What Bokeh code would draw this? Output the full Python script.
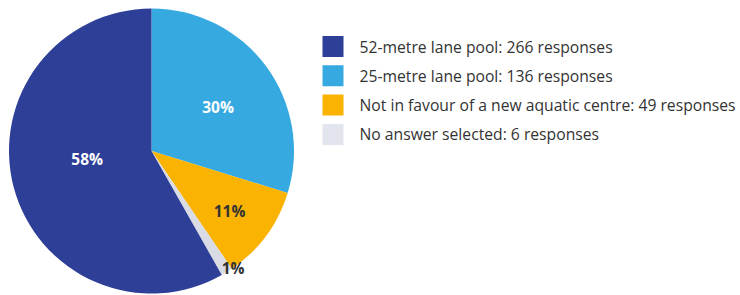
import math
from bokeh.plotting import figure
from bokeh.models import Range1d, ColumnDataSource
from bokeh.core.properties import value
from bokeh.embed import file_html
from bokeh.resources import INLINE

# ---- data (legend order) ----
categories = ["52-metre lane pool", "25-metre lane pool",
              "Not in favour of a new aquatic centre", "No answer selected"]
responses = [266, 136, 49, 6]
colors = ["#2E3F98", "#36A9E1", "#F9B300", "#D9DCE4"]
legend_colors = ["#2E3F98", "#36A9E1", "#F9B300", "#E2E5ED"]
label_colors = ["white", "white", "#333333", "#333333"]

# pie drawing order: clockwise from 12 o'clock
pie_order = [1, 2, 3, 0]
label_dist = {0: 0.455, 1: 0.56, 2: 0.69, 3: 1.0}
label_shift_deg = {0: -7.5, 1: -3, 2: -1, 3: 3}

W, H = 740, 295
cx, cy, R = 151, H - 150.5, 142.5

total = sum(responses)
starts, ends, fills, lx, ly, ltxt, lcol = [], [], [], [], [], [], []
cum = 0.0
for i in pie_order:
    frac = responses[i] / total
    a_start = math.pi / 2 - cum * 2 * math.pi
    a_end = math.pi / 2 - (cum + frac) * 2 * math.pi
    starts.append(a_end)
    ends.append(a_start)
    fills.append(colors[i])
    mid = (a_start + a_end) / 2 + math.radians(label_shift_deg[i])
    lx.append(cx + R * label_dist[i] * math.cos(mid))
    ly.append(cy + R * label_dist[i] * math.sin(mid))
    ltxt.append(f"{round(frac * 100)}%")
    lcol.append(label_colors[i])
    cum += frac

p = figure(width=W, height=H, output_backend="svg", toolbar_location=None,
           x_range=Range1d(0, W), y_range=Range1d(0, H),
           x_axis_location=None, y_axis_location=None,
           min_border=0, outline_line_color=None, background_fill_color="white")
p.grid.visible = False

p.wedge(x=cx, y=cy, radius=R, radius_units="screen",
        start_angle="s", end_angle="e", fill_color="f", line_color=None,
        source=ColumnDataSource(dict(s=starts, e=ends, f=fills)))

p.text(x="x", y="y", text="t", text_color="c", source=ColumnDataSource(dict(x=lx, y=ly, t=ltxt, c=lcol)),
       text_font=value("Open Sans"), text_font_style="bold", text_font_size="15.5px",
       text_align="center", text_baseline="middle")

# legend
row0, step = H - 46, 29.3
sq_x, txt_x = 332.5, 359
ys = [row0 - k * step for k in range(len(categories))]
p.rect(x=[sq_x] * len(categories), y=ys, width=21, height=21,
       width_units="screen", height_units="screen",
       fill_color=legend_colors, line_color=None)
p.text(x=[txt_x] * len(categories), y=ys,
       text=[f"{c}: {n} responses" for c, n in zip(categories, responses)],
       text_font=value("Open Sans"), text_font_size="15.7px", text_color="#333333",
       text_align="left", text_baseline="middle")

open("out.html", "w").write(file_html(p, INLINE))
